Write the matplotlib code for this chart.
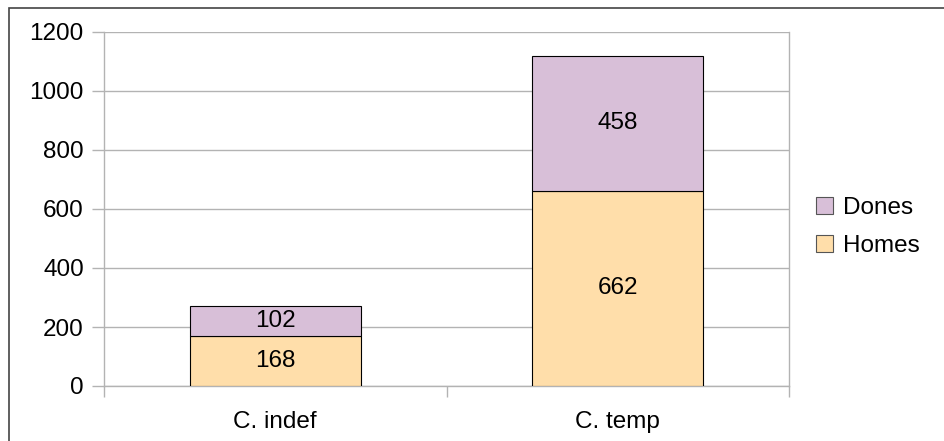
import matplotlib

matplotlib.use("Agg")

import matplotlib.pyplot as plt  # noqa: E402
from matplotlib.patches import Patch, Rectangle  # noqa: E402

categories = ["C. indef", "C. temp"]
homes = [168, 662]
dones = [102, 458]
y_ticks = [0, 200, 400, 600, 800, 1000, 1200]

HOMES_COLOR = "#ffdeaa"
DONES_COLOR = "#d8bfd8"
GRID_COLOR = "#b3b3b3"
FS = 17.5

plt.rcParams["font.family"] = ["Liberation Sans", "DejaVu Sans"]

fig = plt.figure(figsize=(9.44, 4.41), dpi=100)
ax = fig.add_axes([104 / 944, 55 / 441, 685 / 944, 354 / 441])

x = list(range(len(categories)))
b1 = ax.bar(x, homes, width=0.5, color=HOMES_COLOR, edgecolor="black", linewidth=0.8, zorder=3)
b2 = ax.bar(x, dones, width=0.5, bottom=homes, color=DONES_COLOR, edgecolor="black",
            linewidth=0.8, zorder=3)
ax.bar_label(b1, label_type="center", fontsize=FS)
ax.bar_label(b2, label_type="center", fontsize=FS)

ax.set_xlim(-0.5, len(categories) - 0.5)
ax.set_ylim(0, 1200)
ax.set_yticks(y_ticks)
ax.set_xticks(x)
ax.set_xticklabels(categories)
# category separators sit between the bars
ax.set_xticks([i - 0.5 for i in range(len(categories) + 1)], minor=True)
ax.tick_params(axis="x", which="major", length=0, pad=18, labelsize=FS)
ax.tick_params(axis="x", which="minor", length=8, color=GRID_COLOR, width=1)
ax.tick_params(axis="y", length=8.5, color=GRID_COLOR, width=1, pad=6, labelsize=FS)

ax.yaxis.grid(True, color=GRID_COLOR, linewidth=1, zorder=0)
ax.set_axisbelow(True)
for side in ("left", "bottom", "right"):
    ax.spines[side].set_color(GRID_COLOR)
    ax.spines[side].set_linewidth(1)
ax.spines["top"].set_visible(False)

handles = [
    Patch(facecolor=DONES_COLOR, edgecolor="#555555", linewidth=0.8, label="Dones"),
    Patch(facecolor=HOMES_COLOR, edgecolor="#555555", linewidth=0.8, label="Homes"),
]
fig.legend(handles=handles, loc="center left", bbox_to_anchor=(797 / 944, 1 - 227 / 441),
           frameon=False, fontsize=FS, handlelength=0.68, handleheight=0.68,
           handletextpad=0.4, labelspacing=0.65, borderpad=0.3)

# outer chart frame (only top/left edges fall inside the image)
fig.add_artist(Rectangle((9 / 944, -0.1), 1.2, 1 - 8 / 441 + 0.1, transform=fig.transFigure,
                         fill=False, edgecolor="#444444", linewidth=1.2, clip_on=False))

fig.savefig("out.png", dpi=100)
plt.close(fig)
